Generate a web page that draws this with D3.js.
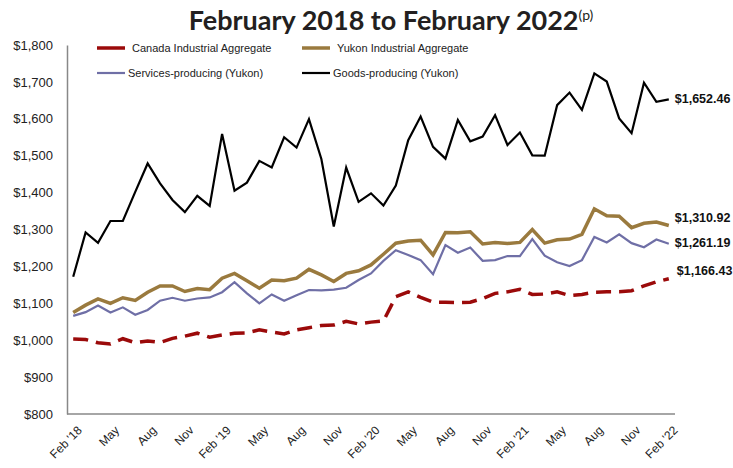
<!DOCTYPE html>
<html>
<head>
<meta charset="utf-8">
<script src="https://cdn.jsdelivr.net/npm/d3@7"></script>
<style>
  body { margin: 0; background: #fff; }
  text { font-family: "Liberation Sans", Arial, sans-serif; }
</style>
</head>
<body>
<div class="D3"></div>
<script>
//monthly data, Feb 2018 to Feb 2022
var months = ["Feb '18","Mar","Apr","May","Jun","Jul","Aug","Sep","Oct","Nov","Dec","Jan",
  "Feb '19","Mar","Apr","May","Jun","Jul","Aug","Sep","Oct","Nov","Dec","Jan",
  "Feb '20","Mar","Apr","May","Jun","Jul","Aug","Sep","Oct","Nov","Dec","Jan",
  "Feb '21","Mar","Apr","May","Jun","Jul","Aug","Sep","Oct","Nov","Dec","Jan",
  "Feb '22"];

var canada = [1003,1002,993,990,1004,993,998,994,1005,1011,1019,1008,
  1014,1019,1020,1028,1022,1017,1028,1034,1040,1041,1051,1044,
  1049,1052,1118,1131,1116,1103,1103,1102,1103,1113,1127,1131,
  1138,1124,1125,1131,1121,1124,1130,1131,1131,1134,1147,1158,
  1166.43];

var yukon = [1075,1095,1112,1100,1115,1108,1130,1147,1147,1132,1140,1137,
  1168,1181,1161,1141,1163,1161,1168,1192,1177,1159,1181,1188,
  1204,1233,1263,1269,1271,1231,1292,1291,1294,1261,1265,1262,
  1265,1300,1263,1272,1274,1287,1356,1337,1336,1305,1317,1320,
  1310.92];

var services = [1066,1076,1094,1075,1089,1069,1082,1107,1115,1107,1113,1116,
  1130,1157,1127,1100,1124,1107,1122,1136,1135,1137,1142,1163,
  1181,1215,1244,1231,1217,1179,1258,1237,1251,1215,1217,1228,
  1228,1274,1229,1211,1201,1217,1280,1265,1287,1263,1252,1273,
  1261.19];

var goods = [1172,1292,1264,1323,1323,1402,1479,1425,1380,1347,1391,1364,
  1559,1405,1427,1486,1468,1550,1522,1599,1491,1308,1468,1375,
  1398,1365,1419,1542,1606,1524,1492,1597,1539,1552,1610,1529,
  1563,1501,1500,1637,1671,1624,1723,1701,1601,1561,1698,1646,
  1652.46];

var yTicks = [800,900,1000,1100,1200,1300,1400,1500,1600,1700,1800];

var seriesNames = ["Canada Industrial Aggregate","Yukon Industrial Aggregate",
  "Services-producing (Yukon)","Goods-producing (Yukon)"];

//set svg and chart dimensions
var svgWidth = 733;
var svgHeight = 468;

var margin = { top: 45, right: 58, bottom: 54, left: 67 };
var chartWidth = svgWidth - margin.left - margin.right;
var chartHeight = svgHeight - margin.top - margin.bottom;

var svg = d3.select(".D3")
  .append("svg")
  .attr("width", svgWidth)
  .attr("height", svgHeight);

//title (first line cut off at the top of the picture)
svg.append("text")
  .attr("x", 380)
  .attr("y", -6)
  .attr("text-anchor", "middle")
  .style("font-family", "Lato, sans-serif")
  .style("font-weight", "bold")
  .style("font-size", "27px")
  .attr("fill", "#231f20")
  .text("Yukon Average Weekly Earnings");

var title = svg.append("text")
  .attr("x", 391)
  .attr("y", 30)
  .attr("text-anchor", "middle")
  .style("font-family", "Lato, sans-serif")
  .style("font-weight", "bold")
  .style("font-size", "27px")
  .attr("fill", "#231f20")
  .text("February 2018 to February 2022");
title.append("tspan")
  .attr("dy", -10)
  .style("font-size", "14px")
  .style("font-weight", "normal")
  .text("(p)");

var chartGroup = svg.append("g")
  .attr("transform", `translate(${margin.left}, ${margin.top})`);

//scales
var xScale = d3.scalePoint()
  .domain(d3.range(months.length))
  .range([0, chartWidth])
  .padding(0.5);

var yScale = d3.scaleLinear()
  .domain([800, 1800])
  .range([chartHeight, 0]);

//y axis, no tick marks
var leftAxis = d3.axisLeft(yScale)
  .tickValues(yTicks)
  .tickSize(0)
  .tickPadding(14)
  .tickFormat(d => "$" + d3.format(",")(d));

var yAxis = chartGroup.append("g").call(leftAxis);
yAxis.select(".domain").attr("stroke", "#888").attr("stroke-width", 1.5);
yAxis.selectAll("text")
  .style("font-size", "13px")
  .attr("fill", "#222");

//x axis, label every 3 months
var bottomAxis = d3.axisBottom(xScale)
  .tickValues(d3.range(0, months.length, 3))
  .tickSize(0)
  .tickFormat(i => months[i]);

var xAxis = chartGroup.append("g")
  .attr("transform", `translate(0, ${chartHeight})`)
  .call(bottomAxis);
xAxis.select(".domain")
  .attr("d", `M0,0H${chartWidth}`)
  .attr("stroke", "#888")
  .attr("stroke-width", 1.5);
xAxis.selectAll("text")
  .style("font-size", "12px")
  .attr("fill", "#222")
  .attr("text-anchor", "end")
  .attr("dy", "0.35em")
  .attr("transform", "translate(4, 12) rotate(-45)");

//lines
var line = d3.line()
  .x((d, i) => xScale(i))
  .y(d => yScale(d));

var lineData = [
  { values: canada, color: "#9b0a0a", width: 3.5, dash: "15,8" },
  { values: yukon, color: "#9a7a3e", width: 3.5, dash: null },
  { values: services, color: "#6f6fa6", width: 2.2, dash: null },
  { values: goods, color: "#000000", width: 2.2, dash: null }
];

chartGroup.selectAll(".series")
  .data(lineData)
  .enter()
  .append("path")
  .attr("class", "series")
  .attr("d", d => line(d.values))
  .attr("fill", "none")
  .attr("stroke", d => d.color)
  .attr("stroke-width", d => d.width)
  .attr("stroke-dasharray", d => d.dash)
  .attr("stroke-linejoin", "miter");

//end labels
var endLabels = [
  { v: goods[goods.length - 1], dx: 6, dy: 4 },
  { v: yukon[yukon.length - 1], dx: 6, dy: -3 },
  { v: services[services.length - 1], dx: 6, dy: 3 },
  { v: canada[canada.length - 1], dx: 8, dy: -4 }
];

chartGroup.selectAll(".endLabel")
  .data(endLabels)
  .enter()
  .append("text")
  .attr("class", "endLabel")
  .attr("x", xScale(months.length - 1))
  .attr("y", d => yScale(d.v))
  .attr("dx", d => d.dx)
  .attr("dy", d => d.dy)
  .style("font-size", "12.5px")
  .style("font-weight", "bold")
  .attr("fill", "#111")
  .text(d => "$" + d3.format(",.2f")(d.v));

//legend, two rows of two
var legend = svg.append("g");
var legendPos = [[97, 48], [302, 48], [97, 73], [302, 73]];

legendPos.forEach(function(p, i) {
  var s = lineData[i];
  legend.append("line")
    .attr("x1", p[0]).attr("x2", p[0] + 28)
    .attr("y1", p[1]).attr("y2", p[1])
    .attr("stroke", s.color)
    .attr("stroke-width", i < 2 ? 3.5 : 2.2);
  legend.append("text")
    .attr("x", p[0] + (i < 2 ? 35 : 31))
    .attr("y", p[1] + 4)
    .style("font-size", "11px")
    .attr("fill", "#222")
    .text(seriesNames[i]);
});
</script>
</body>
</html>
